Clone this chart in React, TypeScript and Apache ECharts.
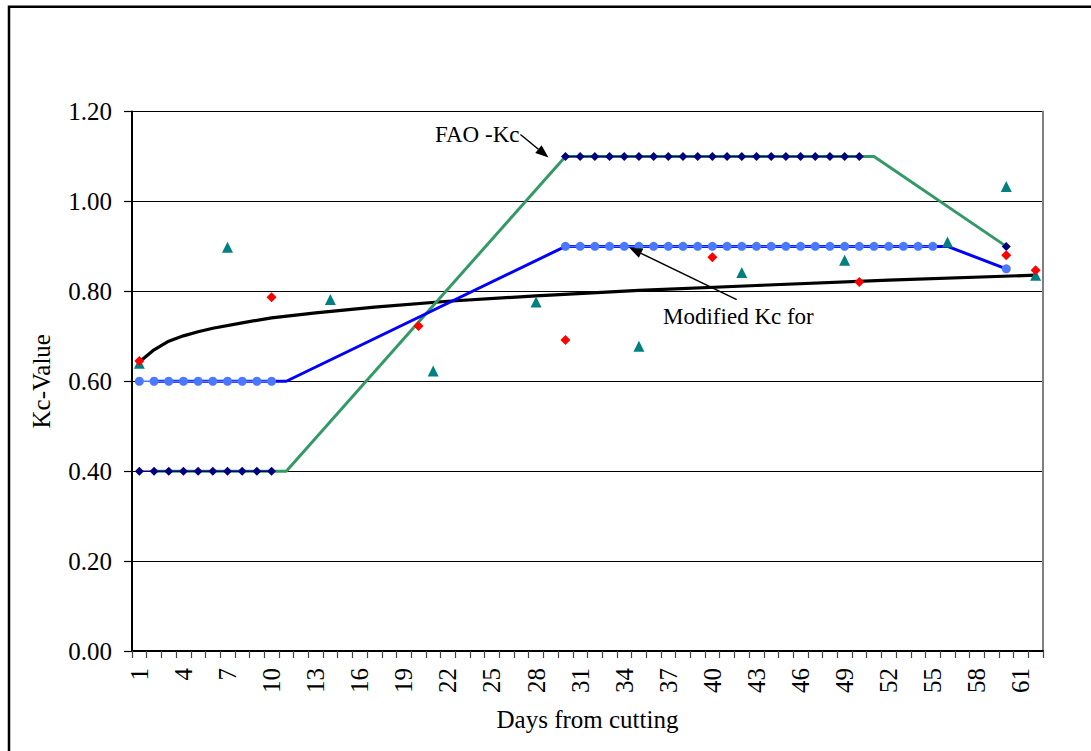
import React, { useEffect, useRef } from "react";
import * as echarts from "echarts";

// ---- data ----
const days: string[] = Array.from({ length: 62 }, (_, i) => String(i + 1));

// FAO-Kc curve breakpoints (green line)
const faoLineDays = [2, 11, 30, 51, 60];
const faoLineVals = [0.4, 0.4, 1.1, 1.1, 0.9];

// Modified Kc curve breakpoints (blue line)
const modLineDays = [2, 11, 30, 56, 60];
const modLineVals = [0.6, 0.6, 0.9, 0.9, 0.85];

// FAO-Kc daily points (navy diamonds)
const faoPtDays = [1, 2, 3, 4, 5, 6, 7, 8, 9, 10, 30, 31, 32, 33, 34, 35, 36, 37, 38, 39, 40, 41, 42, 43, 44, 45, 46, 47, 48, 49, 50, 60];
const faoPtVals = [0.4, 0.4, 0.4, 0.4, 0.4, 0.4, 0.4, 0.4, 0.4, 0.4, 1.1, 1.1, 1.1, 1.1, 1.1, 1.1, 1.1, 1.1, 1.1, 1.1, 1.1, 1.1, 1.1, 1.1, 1.1, 1.1, 1.1, 1.1, 1.1, 1.1, 1.1, 0.9];

// Modified Kc daily points (blue circles)
const modPtDays = [1, 2, 3, 4, 5, 6, 7, 8, 9, 10, 30, 31, 32, 33, 34, 35, 36, 37, 38, 39, 40, 41, 42, 43, 44, 45, 46, 47, 48, 49, 50, 51, 52, 53, 54, 55, 60];
const modPtVals = [0.6, 0.6, 0.6, 0.6, 0.6, 0.6, 0.6, 0.6, 0.6, 0.6, 0.9, 0.9, 0.9, 0.9, 0.9, 0.9, 0.9, 0.9, 0.9, 0.9, 0.9, 0.9, 0.9, 0.9, 0.9, 0.9, 0.9, 0.9, 0.9, 0.9, 0.9, 0.9, 0.9, 0.9, 0.9, 0.9, 0.85];

// Measured Kc (red diamonds)
const redDays = [1, 10, 20, 30, 40, 50, 60, 62];
const redVals = [0.645, 0.787, 0.723, 0.692, 0.876, 0.821, 0.88, 0.847];

// Measured Kc (teal triangles)
const tealDays = [1, 7, 14, 21, 28, 35, 42, 49, 56, 60, 62];
const tealVals = [0.64, 0.898, 0.782, 0.623, 0.776, 0.678, 0.842, 0.869, 0.91, 1.033, 0.836];

// Trend curve (black), read at selected days
const trendDays = [1, 2, 3, 4, 5, 6, 8, 10, 13, 17, 22, 28, 35, 43, 52, 62];
const trendVals = [0.643, 0.67, 0.689, 0.701, 0.71, 0.718, 0.73, 0.741, 0.752, 0.765, 0.778, 0.79, 0.802, 0.813, 0.825, 0.836];

const FONT = "Liberation Serif";

function toSeries(ds: number[], vs: number[]) {
  const arr: (number | null)[] = days.map(() => null);
  ds.forEach((d, i) => {
    arr[d - 1] = vs[i];
  });
  return arr;
}

function toPairs(ds: number[], vs: number[]) {
  return ds.map((d, i) => [d - 1, vs[i]]);
}

function arrow(sx: number, sy: number, tx: number, ty: number) {
  const dx = tx - sx;
  const dy = ty - sy;
  const len = Math.sqrt(dx * dx + dy * dy);
  const ux = dx / len;
  const uy = dy / len;
  const hl = 13;
  const hw = 5;
  const bx = tx - ux * hl;
  const by = ty - uy * hl;
  return [
    {
      type: "line",
      shape: { x1: sx, y1: sy, x2: bx, y2: by },
      style: { stroke: "#000", lineWidth: 1.5 },
      z: 100,
    },
    {
      type: "polygon",
      shape: {
        points: [
          [tx, ty],
          [bx - uy * hw, by + ux * hw],
          [bx + uy * hw, by - ux * hw],
        ],
      },
      style: { fill: "#000" },
      z: 100,
    },
  ];
}

export default function App() {
  const ref = useRef<HTMLDivElement>(null);
  useEffect(() => {
    if (!ref.current) return;
    const chart = echarts.init(ref.current, null, { renderer: "svg" });
    const option: any = {
      animation: false,
      backgroundColor: "#fff",
      grid: { left: 132, top: 111.5, right: 48, bottom: 100, containLabel: false },
      xAxis: {
        type: "category",
        data: days,
        boundaryGap: true,
        name: "Days from cutting",
        nameLocation: "middle",
        nameGap: 56,
        nameTextStyle: { fontFamily: FONT, fontSize: 25, color: "#000" },
        axisLine: { lineStyle: { color: "#000", width: 2 } },
        axisTick: { show: true, interval: 0, length: 7, lineStyle: { color: "#444", width: 1.2 } },
        axisLabel: {
          interval: 2,
          rotate: 90,
          margin: 17,
          fontFamily: FONT,
          fontSize: 25,
          color: "#000",
        },
        splitLine: { show: false },
      },
      yAxis: [
        {
          type: "value",
          min: 0,
          max: 1.2,
          interval: 0.2,
          name: "Kc-Value",
          nameLocation: "middle",
          nameGap: 78,
          nameTextStyle: { fontFamily: FONT, fontSize: 25, color: "#000" },
          axisLine: { show: true, lineStyle: { color: "#000", width: 2 } },
          axisTick: { show: true, length: 8, lineStyle: { color: "#000", width: 1.2 } },
          axisLabel: {
            margin: 20,
            fontFamily: FONT,
            fontSize: 25,
            color: "#000",
            formatter: (v: number) => v.toFixed(2),
          },
          splitLine: { show: true, lineStyle: { color: "#000", width: 1 } },
        },
        {
          type: "value",
          min: 0,
          max: 1.2,
          interval: 0.2,
          position: "right",
          axisLine: { show: true, lineStyle: { color: "#808080", width: 2 } },
          axisTick: { show: false },
          axisLabel: { show: false },
          splitLine: { show: false },
        },
      ],
      series: [
        {
          name: "Trend",
          type: "line",
          data: toPairs(trendDays, trendVals),
          smooth: false,
          showSymbol: false,
          symbol: "none",
          lineStyle: { color: "#000", width: 3.2, join: "round", cap: "round" },
          z: 2,
        },
        {
          name: "FAO-Kc",
          type: "line",
          data: toSeries(faoLineDays, faoLineVals),
          connectNulls: true,
          symbol: "none",
          lineStyle: { color: "#339966", width: 3 },
          z: 3,
        },
        {
          name: "Modified Kc",
          type: "line",
          data: toSeries(modLineDays, modLineVals),
          connectNulls: true,
          symbol: "none",
          lineStyle: { color: "#0000FF", width: 3 },
          z: 3,
        },
        {
          name: "FAO-Kc points",
          type: "line",
          data: toSeries(faoPtDays, faoPtVals),
          connectNulls: false,
          symbol: "diamond",
          symbolSize: 9,
          showAllSymbol: true,
          itemStyle: { color: "#000080" },
          lineStyle: { color: "#000080", width: 1.5 },
          z: 4,
        },
        {
          name: "Modified Kc points",
          type: "line",
          data: toSeries(modPtDays, modPtVals),
          connectNulls: false,
          symbol: "circle",
          symbolSize: 9,
          showAllSymbol: true,
          itemStyle: { color: "#4a78ff" },
          lineStyle: { color: "#4a78ff", width: 1.5 },
          z: 4,
        },
        {
          name: "Measured A",
          type: "scatter",
          data: toPairs(tealDays, tealVals),
          symbol: "triangle",
          symbolSize: 11,
          itemStyle: { color: "#008080", opacity: 1 },
          z: 5,
        },
        {
          name: "Measured B",
          type: "scatter",
          data: toPairs(redDays, redVals),
          symbol: "diamond",
          symbolSize: 10,
          itemStyle: { color: "#FF0000", opacity: 1 },
          z: 6,
        },
      ],
    };
    chart.setOption(option);

    const pFao = chart.convertToPixel({ gridIndex: 0 }, [29, 1.1]) as number[];
    const pMod = chart.convertToPixel({ gridIndex: 0 }, [34, 0.9]) as number[];
    const faoTip = [pFao[0] - 17, pFao[1] + 1];
    const faoStart = [faoTip[0] - 28, faoTip[1] - 23];
    const modTip = [pMod[0] - 9.6, pMod[1] + 1.3];
    const modStart = [modTip[0] + 107.4, modTip[1] + 52];

    chart.setOption({
      graphic: [
        {
          type: "rect",
          shape: { x: 9, y: 6.7, width: 1200, height: 1000 },
          style: { fill: "none", stroke: "#000", lineWidth: 2.5 },
          z: 100,
        },
        {
          type: "text",
          x: faoStart[0] - 1,
          y: faoStart[1],
          style: {
            text: "FAO -Kc",
            font: '23px "Liberation Serif"',
            fill: "#000",
            align: "right",
            verticalAlign: "middle",
          },
          z: 100,
        },
        ...arrow(faoStart[0], faoStart[1], faoTip[0], faoTip[1]),
        {
          type: "text",
          x: modTip[0] + 33.7,
          y: modTip[1] + 68.7,
          style: {
            text: "Modified Kc for",
            font: '23px "Liberation Serif"',
            fill: "#000",
            align: "left",
            verticalAlign: "middle",
          },
          z: 100,
        },
        ...arrow(modStart[0], modStart[1], modTip[0], modTip[1]),
      ],
    });

    return () => chart.dispose();
  }, []);

  return (
    <div
      ref={ref}
      style={{ position: "absolute", left: 0, top: 0, width: 1091, height: 751 }}
    />
  );
}
